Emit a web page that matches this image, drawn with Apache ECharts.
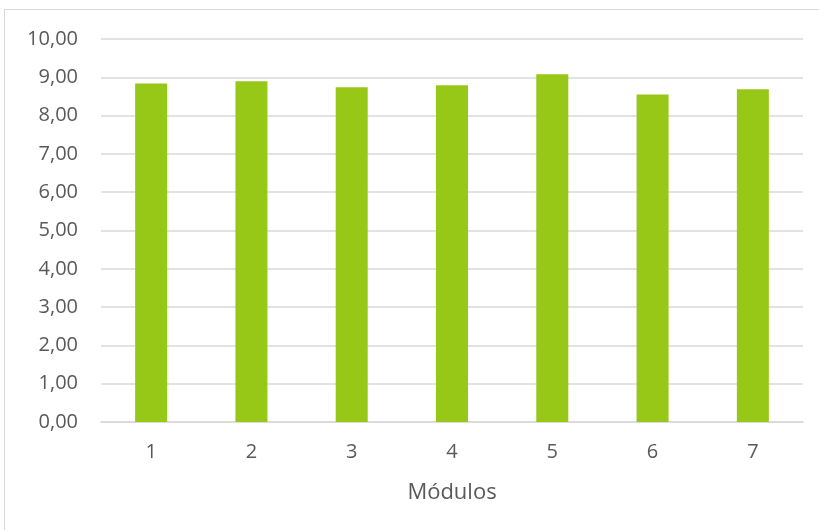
<!DOCTYPE html>
<html>
<head>
<meta charset="utf-8">
<script src="https://cdn.jsdelivr.net/npm/echarts@6/dist/echarts.min.js"></script>
<style>
  html, body { margin: 0; padding: 0; background: #fff; }
  #frame { position: absolute; left: 4px; top: 9px; width: 830px; height: 540px; border: 1px solid #d9d9d9; box-sizing: border-box; }
  #chart { position: absolute; left: 0; top: 0; width: 819px; height: 530px; }
</style>
</head>
<body>
<div id="frame"></div>
<div id="chart"></div>
<script>
const categories = ["1", "2", "3", "4", "5", "6", "7"];
const values = [8.84, 8.90, 8.74, 8.79, 9.08, 8.55, 8.69];
const yTicks = { min: 0, max: 10, interval: 1 };

const fmt = (v) => v.toFixed(2).replace(".", ",");

const chart = echarts.init(document.getElementById("chart"));
chart.setOption({
  animation: false,
  textStyle: { fontFamily: "Open Sans" },
  grid: { left: 101, right: 16, top: 39, bottom: 108 },
  xAxis: {
    type: "category",
    data: categories,
    name: "Módulos",
    nameLocation: "middle",
    nameGap: 60,
    nameTextStyle: { fontSize: 22, color: "#595959" },
    axisLine: { lineStyle: { color: "#d9d9d9", width: 1.5 } },
    axisTick: { show: false },
    axisLabel: { fontSize: 20, color: "#595959", margin: 20 }
  },
  yAxis: {
    type: "value",
    min: yTicks.min,
    max: yTicks.max,
    interval: yTicks.interval,
    axisLine: { show: false },
    axisTick: { show: false },
    axisLabel: { fontSize: 20, color: "#595959", margin: 23, formatter: fmt },
    splitLine: { lineStyle: { color: "#d9d9d9", width: 1.5 } }
  },
  series: [
    {
      type: "bar",
      data: values,
      barWidth: 32,
      itemStyle: { color: "#97c817" }
    }
  ]
});
</script>
</body>
</html>
